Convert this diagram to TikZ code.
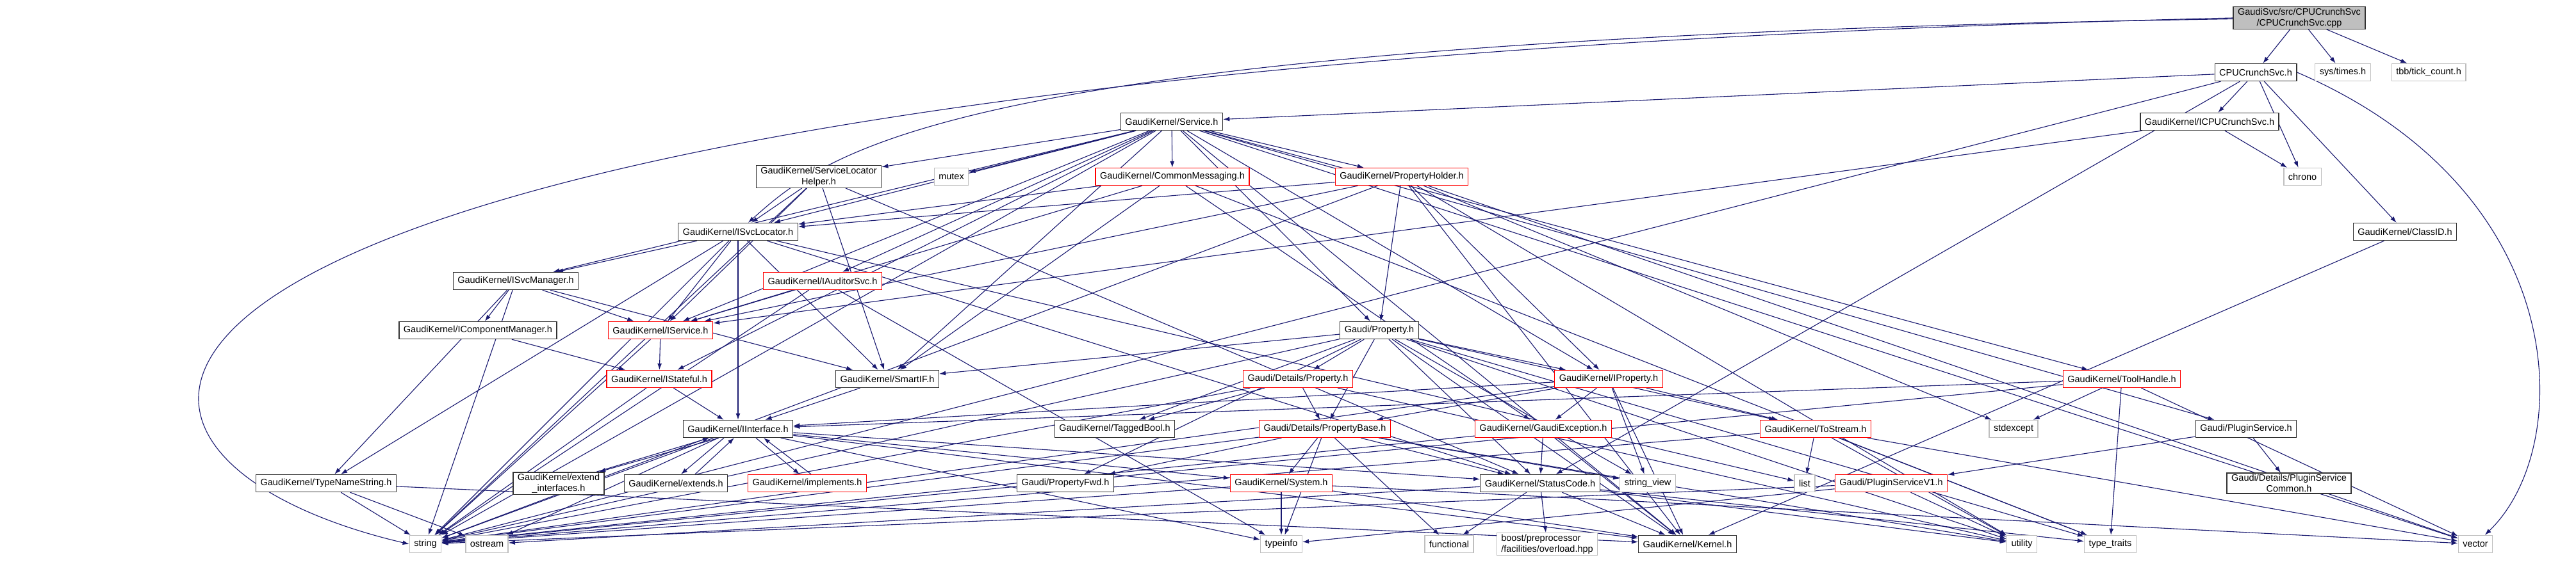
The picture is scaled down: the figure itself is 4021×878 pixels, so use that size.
\documentclass[tikz,border=0pt]{standalone}
\usepackage{fontspec}
\setmainfont{Liberation Sans}
\usetikzlibrary{arrows.meta,positioning,backgrounds}
\definecolor{edgeblue}{HTML}{191970}
\definecolor{boxgray}{HTML}{BFBFBF}
\definecolor{boxred}{HTML}{FF0000}

\begin{document}
\begin{tikzpicture}[x=1pt,y=-1pt]
        \tikzstyle{block} = [rectangle, draw=black!80, line width=1.4pt, fill=white, minimum height=27pt, inner xsep=7pt, inner ysep=2pt, font=\fontsize{14.5}{17}\selectfont, align=center]
        \tikzstyle{redblock} = [block, draw=boxred]
        \tikzstyle{sysblock} = [block, draw=boxgray]
        \tikzstyle{dep} = [-{Latex[length=10pt,width=7pt]}, draw=edgeblue, line width=1.1pt]

        \useasboundingbox (0,0) rectangle (4021,878);

        % top rows
        \node[block, fill=boxgray] (main) at (3589,28) {GaudiSvc/src/CPUCrunchSvc\\/CPUCrunchSvc.cpp};
        \node[block] (cpuh) at (3521,113) {CPUCrunchSvc.h};
        \node[sysblock] (times) at (3657,113) {sys/times.h};
        \node[sysblock] (tick) at (3791,113) {tbb/tick\_count.h};
        \node[block] (svc) at (1829,190) {GaudiKernel/Service.h};
        \node[block] (icpu) at (3449,190) {GaudiKernel/ICPUCrunchSvc.h};
        \node[block] (slh) at (1278,276) {GaudiKernel/ServiceLocator\\Helper.h};
        \node[sysblock] (mutex) at (1485,276) {mutex};
        \node[redblock] (cmsg) at (1830,276) {GaudiKernel/CommonMessaging.h};
        \node[redblock] (pholder) at (2188,276) {GaudiKernel/PropertyHolder.h};
        \node[sysblock] (chrono) at (3594,276) {chrono};
        \node[block] (isvcloc) at (1152,362) {GaudiKernel/ISvcLocator.h};
        \node[block] (classid) at (3754,362) {GaudiKernel/ClassID.h};

        % middle rows
        \node[block] (isvcmgr) at (805,439) {GaudiKernel/ISvcManager.h};
        \node[redblock] (iaud) at (1284,439) {GaudiKernel/IAuditorSvc.h};
        \node[block] (icompmgr) at (746,516) {GaudiKernel/IComponentManager.h};
        \node[redblock] (iservice) at (1031,516) {GaudiKernel/IService.h};
        \node[block] (prop) at (2153,516) {Gaudi/Property.h};
        \node[redblock] (istateful) at (1029,592) {GaudiKernel/IStateful.h};
        \node[block] (smartif) at (1385,592) {GaudiKernel/SmartIF.h};
        \node[redblock] (dprop) at (2026,592) {Gaudi/Details/Property.h};
        \node[redblock] (iprop) at (2511,592) {GaudiKernel/IProperty.h};
        \node[redblock] (toolh) at (3312,592) {GaudiKernel/ToolHandle.h};
        \node[block] (iintf) at (1152,670) {GaudiKernel/IInterface.h};
        \node[block] (tagged) at (1740,670) {GaudiKernel/TaggedBool.h};
        \node[redblock] (pbase) at (2068,670) {Gaudi/Details/PropertyBase.h};
        \node[redblock] (gexc) at (2409,670) {GaudiKernel/GaudiException.h};
        \node[redblock] (tostream) at (2834,670) {GaudiKernel/ToStream.h};
        \node[sysblock] (stdexcept) at (3143,670) {stdexcept};
        \node[block] (plugin) at (3506,670) {Gaudi/PluginService.h};

        % lower rows
        \node[block] (tns) at (509,755) {GaudiKernel/TypeNameString.h};
        \node[block] (extintf) at (872,755) {GaudiKernel/extend\\\_interfaces.h};
        \node[block] (extends) at (1055,755) {GaudiKernel/extends.h};
        \node[redblock] (implements) at (1260,755) {GaudiKernel/implements.h};
        \node[block] (pfwd) at (1663,755) {Gaudi/PropertyFwd.h};
        \node[redblock] (system) at (2000,755) {GaudiKernel/System.h};
        \node[block] (statuscode) at (2404,755) {GaudiKernel/StatusCode.h};
        \node[sysblock] (strview) at (2572,755) {string\_view};
        \node[sysblock] (list) at (2817,755) {list};
        \node[redblock] (pv1) at (2952,755) {Gaudi/PluginServiceV1.h};
        \node[block] (pcommon) at (3573,755) {Gaudi/Details/PluginService\\Common.h};
        \node[sysblock] (string) at (664,850) {string};
        \node[sysblock] (ostream) at (760,850) {ostream};
        \node[sysblock] (typeinfo) at (2000,850) {typeinfo};
        \node[sysblock] (functional) at (2262,850) {functional};
        \node[sysblock, align=left] (boost) at (2415,850) {boost/preprocessor\\/facilities/overload.hpp};
        \node[block] (kernel) at (2634,850) {GaudiKernel/Kernel.h};
        \node[sysblock] (utility) at (3156,850) {utility};
        \node[sysblock] (typetraits) at (3294,850) {type\_traits};
        \node[sysblock] (vector) at (3864,850) {vector};

        \begin{scope}[on background layer]
        \draw[dep] (main) -- (cpuh);
        \draw[dep] (main) -- (times);
        \draw[dep] (main) -- (tick);
        \draw[dep] (main) .. controls (1500,60) and (1300,230) .. (isvcloc);
        \draw[dep] (main.west) .. controls (0,110) and (0,700) .. (string.west);

        \draw[dep] (cpuh) -- (svc);
        \draw[dep] (cpuh) -- (icpu);
        \draw[dep] (cpuh) -- (chrono);
        \draw[dep] (cpuh) -- (classid);
        \draw[dep] (cpuh) -- (statuscode);
        \draw[dep] (cpuh.east) .. controls (4020,300) and (4020,700) .. (vector);
        \draw[dep] (cpuh) -- (string);

        \draw[dep] (icpu) -- (chrono);
        \draw[dep] (icpu) -- (iservice);
        \draw[dep] (classid) -- (kernel);

        \draw[dep] (svc) -- (slh);
        \draw[dep] (svc) -- (mutex);
        \draw[dep] (svc) -- (cmsg);
        \draw[dep] (svc) -- (pholder);
        \draw[dep] (svc) -- (isvcloc);
        \draw[dep] (svc) -- (isvcmgr);
        \draw[dep] (svc) -- (iaud);
        \draw[dep] (svc) -- (iservice);
        \draw[dep] (svc) -- (istateful);
        \draw[dep] (svc) -- (smartif);
        \draw[dep] (svc) -- (prop);
        \draw[dep] (svc) -- (iprop);
        \draw[dep] (svc) -- (toolh);
        \draw[dep] (svc) -- (plugin);
        \draw[dep] (svc) -- (vector);
        \draw[dep] (svc) -- (string);
        \draw[dep] (svc) -- (kernel);

        \draw[dep] (slh) -- (isvcloc);
        \draw[dep] (slh) -- (iservice);
        \draw[dep] (slh) -- (smartif);
        \draw[dep] (slh) -- (statuscode);
        \draw[dep] (slh) -- (string);

        \draw[dep] (cmsg) -- (isvcloc);
        \draw[dep] (cmsg) -- (iservice);
        \draw[dep] (cmsg) -- (smartif);
        \draw[dep] (cmsg) -- (gexc);
        \draw[dep] (cmsg) -- (typetraits);

        \draw[dep] (pholder) -- (prop);
        \draw[dep] (pholder) -- (iprop);
        \draw[dep] (pholder) -- (isvcloc);
        \draw[dep] (pholder) -- (iservice);
        \draw[dep] (pholder) -- (stdexcept);
        \draw[dep] (pholder) -- (utility);
        \draw[dep] (pholder) -- (vector);
        \draw[dep] (pholder) -- (string);
        \draw[dep] (pholder) -- (kernel);

        \draw[dep] (isvcloc) -- (iintf);
        \draw[dep] (isvcloc) -- (isvcmgr);
        \draw[dep] (isvcloc) -- (iservice);
        \draw[dep] (isvcloc) -- (smartif);
        \draw[dep] (isvcloc) -- (tns);
        \draw[dep] (isvcloc) -- (list);
        \draw[dep] (isvcloc) -- (string);
        \draw[dep] (isvcloc) -- (statuscode);

        \draw[dep] (isvcmgr) -- (icompmgr);
        \draw[dep] (isvcmgr) -- (iservice);
        \draw[dep] (isvcmgr) -- (tns);
        \draw[dep] (isvcmgr) -- (smartif);
        \draw[dep] (isvcmgr) -- (string);
        \draw[dep] (icompmgr) -- (istateful);

        \draw[dep] (iaud) -- (iservice);
        \draw[dep] (iaud) -- (string);
        \draw[dep] (iaud) -- (typeinfo);
        \draw[dep] (iservice) -- (istateful);
        \draw[dep] (iservice) -- (string);
        \draw[dep] (istateful) -- (iintf);
        \draw[dep] (istateful) -- (string);
        \draw[dep] (smartif) -- (iintf);

        \draw[dep] ([xshift=-30pt]iintf.south) -- (extintf);
        \draw[dep] (extintf) -- ([xshift=-45pt]iintf.south);
        \draw[dep] ([xshift=-22pt]iintf.south) -- ([xshift=8pt]extends.north);
        \draw[dep] ([xshift=30pt]extends.north) -- ([xshift=-6pt]iintf.south);
        \draw[dep] ([xshift=28pt]iintf.south) -- ([xshift=-12pt]implements.north);
        \draw[dep] ([xshift=6pt]implements.north) -- ([xshift=40pt]iintf.south);
        \draw[dep] (iintf) -- (system);
        \draw[dep] (iintf) -- (statuscode);
        \draw[dep] (iintf) -- (kernel);
        \draw[dep] (iintf) -- (string);
        \draw[dep] (iintf) -- (ostream);
        \draw[dep] (iintf) -- (typeinfo);

        \draw[dep] (prop) -- (dprop);
        \draw[dep] (prop) -- (iprop);
        \draw[dep] (prop) -- (smartif);
        \draw[dep] (prop) -- (pbase);
        \draw[dep] (prop) -- (pfwd);
        \draw[dep] (prop) -- (tostream);
        \draw[dep] (prop) -- (tagged);
        \draw[dep] (prop) -- (kernel);
        \draw[dep] (prop) -- (statuscode);
        \draw[dep] (prop) -- (strview);
        \draw[dep] (prop) -- (utility);
        \draw[dep] (prop) -- (typetraits);
        \draw[dep] (prop) -- (string);

        \draw[dep] (dprop) -- (pbase);
        \draw[dep] (dprop) -- (tagged);
        \draw[dep] (dprop) -- (string);
        \draw[dep] (dprop) -- (utility);

        \draw[dep] (iprop) -- (gexc);
        \draw[dep] (iprop) -- (tostream);
        \draw[dep] (iprop) -- (strview);
        \draw[dep] (iprop) -- (pbase);
        \draw[dep] (iprop) -- (iintf);
        \draw[dep] (iprop) -- (string);
        \draw[dep] (iprop) -- (kernel);

        \draw[dep] (pbase) -- (system);
        \draw[dep] (pbase) -- (statuscode);
        \draw[dep] (pbase) -- (pfwd);
        \draw[dep] (pbase) -- (functional);
        \draw[dep] (pbase) -- (typeinfo);
        \draw[dep] (pbase) -- (string);
        \draw[dep] (pbase) -- (strview);
        \draw[dep] (pbase) -- (utility);

        \draw[dep] (gexc) -- (statuscode);
        \draw[dep] (gexc) -- (kernel);
        \draw[dep] (gexc) -- (string);

        \draw[dep] (tostream) -- (list);
        \draw[dep] (tostream) -- (string);
        \draw[dep] (tostream) -- (utility);
        \draw[dep] (tostream) -- (vector);
        \draw[dep] (tostream) -- (typetraits);

        \draw[dep] (toolh) -- (stdexcept);
        \draw[dep] (toolh) -- (typetraits);
        \draw[dep] (toolh) -- (vector);
        \draw[dep] (toolh) -- (iintf);
        \draw[dep] (toolh) -- (string);

        \draw[dep] (plugin) -- (pv1);
        \draw[dep] (plugin) -- (pcommon);
        \draw[dep] (pv1) -- (typeinfo);
        \draw[dep] (pv1) -- (utility);
        \draw[dep] (pv1) -- (string);

        \draw[dep] (tns) -- (string);
        \draw[dep] (tns) -- (ostream);
        \draw[dep] (tns) -- (kernel);

        \draw[dep] (system) -- (typeinfo);
        \draw[dep] (system) -- (kernel);
        \draw[dep] (system) -- (string);
        \draw[dep] (system) -- (vector);

        \draw[dep] (statuscode) -- (functional);
        \draw[dep] (statuscode) -- (boost);
        \draw[dep] (statuscode) -- (kernel);
        \draw[dep] (statuscode) -- (ostream);
        \draw[dep] (statuscode) -- (utility);
        \draw[dep] (statuscode) -- (typetraits);
        \end{scope}
\end{tikzpicture}
\end{document}
